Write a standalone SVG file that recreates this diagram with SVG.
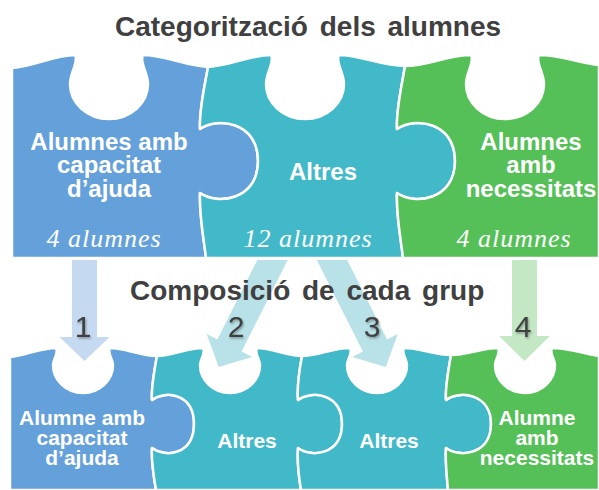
<svg xmlns="http://www.w3.org/2000/svg" width="599" height="490" viewBox="0 0 599 490">
<defs>
<style>
.pc{stroke:#ffffff;stroke-width:2.5;stroke-linejoin:round}
.blue{fill:#64a0da}
.teal{fill:#42b9c8}
.green{fill:#55c057}
.lbl{font-family:"Liberation Sans",Arial,sans-serif;font-weight:bold;fill:#ffffff;text-anchor:middle}
.big{font-size:24px}
.small{font-size:21px}
.cnt{font-family:"Liberation Serif","Times New Roman",serif;font-style:italic;font-size:26px;letter-spacing:1px;fill:#ffffff;text-anchor:middle}
.title{font-family:"Liberation Sans",Arial,sans-serif;font-weight:bold;font-size:28px;fill:#404040;word-spacing:4px}
.num{font-family:"Liberation Sans",Arial,sans-serif;font-size:30px;fill:#404040;text-anchor:middle}
</style>
<filter id="sh" x="-30%" y="-30%" width="160%" height="160%">
<feDropShadow dx="1" dy="1.5" stdDeviation="1" flood-color="#000" flood-opacity="0.35"/>
</filter>
</defs>
<rect width="599" height="490" fill="#ffffff"/>

<g id="top-capacitat">
<path class="pc blue" d="M12 68 C35 66 55 55 75 55 C79 62 70 72 70 84 A39 35 0 0 0 148 84 C148 72 139 62 143 55 C165 55 185 66 208 67 C204 90 199 110 200 129 C217 117 258 121 258 161 C258 201 217 205 200 193 C199 215 204 240 206 258 L12 258 Z"/>
<text class="lbl big" x="109" y="150">Alumnes amb</text>
<text class="lbl big" x="109" y="173">capacitat</text>
<text class="lbl big" x="109" y="197">d’ajuda</text>
<text class="cnt" x="104" y="247">4 alumnes</text>
</g>
<g id="top-altres">
<path class="pc teal" d="M208 67 C230 66 250 55 271 55 C275 62 266 72 266 84 A39 35 0 0 0 344 84 C344 72 335 62 339 55 C360 55 382 66 405 66 C401 90 396 110 397 129 C414 117 455 121 455 161 C455 201 414 205 397 193 C396 215 401 240 403 258 L206 258 C204 240 199 215 200 193 C217 205 258 201 258 161 C258 121 217 117 200 129 C199 110 204 90 208 67 Z"/>
<text class="lbl big" x="323" y="180">Altres</text>
<text class="cnt" x="308" y="247">12 alumnes</text>
</g>
<g id="top-necessitats">
<path class="pc green" d="M405 66 C428 66 448 55 471 55 C475 62 466 72 466 84 A39 35 0 0 0 544 84 C544 72 535 62 539 55 C560 55 580 63 599 65 L599 258 L403 258 C401 240 396 215 397 193 C414 205 455 201 455 161 C455 121 414 117 397 129 C396 110 401 90 405 66 Z"/>
<text class="lbl big" x="531" y="150">Alumnes</text>
<text class="lbl big" x="531" y="173">amb</text>
<text class="lbl big" x="531" y="197">necessitats</text>
<text class="cnt" x="514" y="247">4 alumnes</text>
</g>

<g id="grp-capacitat">
<path class="pc blue" d="M10 357 C25 356 40 348 56 348 C59 353 53 359 53 365 A30 28 0 0 0 113 365 C113 359 107 353 110 348 C125 348 140 356 157 356 C154 372 151 388 152 400 C165 390 194 393 194 424 C194 455 165 458 152 448 C151 462 154 478 156 490 L10 490 Z"/>
<text class="lbl small" x="82" y="425">Alumne amb</text>
<text class="lbl small" x="82" y="445">capacitat</text>
<text class="lbl small" x="82" y="465">d’ajuda</text>
</g>
<g id="grp-altres-1">
<path class="pc teal" d="M157 356 C172 356 187 348 203 348 C206 353 200 359 200 365 A30 28 0 0 0 260 365 C260 359 254 353 257 348 C272 348 287 356 302 356 C299 372 297 388 298 400 C311 390 342 393 342 424 C342 455 311 458 298 448 C297 462 299 478 301 490 L156 490 C154 478 151 462 152 448 C165 458 194 455 194 424 C194 393 165 390 152 400 C151 388 154 372 157 356 Z"/>
<text class="lbl small" x="247" y="448">Altres</text>
</g>
<g id="grp-altres-2">
<path class="pc teal" d="M302 356 C317 356 332 348 350 348 C353 353 347 359 347 365 A30 28 0 0 0 407 365 C407 359 401 353 404 348 C420 348 435 355 451 355 C448 372 445 388 446 400 C459 390 491 393 491 424 C491 455 459 458 446 448 C445 462 447 478 448 490 L301 490 C299 478 297 462 298 448 C311 458 342 455 342 424 C342 393 311 390 298 400 C297 388 299 372 302 356 Z"/>
<text class="lbl small" x="389" y="448">Altres</text>
</g>
<g id="grp-necessitats">
<path class="pc green" d="M451 355 C467 355 482 348 498 348 C501 353 495 359 495 365 A30 28 0 0 0 555 365 C555 359 549 353 552 348 C570 348 585 354 599 356 L599 490 L448 490 C447 478 445 462 446 448 C459 458 491 455 491 424 C491 393 459 390 446 400 C445 388 448 372 451 355 Z"/>
<text class="lbl small" x="537" y="425">Alumne</text>
<text class="lbl small" x="537" y="445">amb</text>
<text class="lbl small" x="537" y="465">necessitats</text>
</g>

<g id="connectors">
<polygon fill="#c5d9f0" points="72,260 97,260 97,337 109.5,337 84.5,361 59.5,337 72,337"/>
<polygon fill="#b8e2e8" points="257.3,260 287.7,260 241.6,351.6 252.3,356.9 218.7,366.9 206.7,334.1 217.4,339.4"/>
<polygon fill="#b8e2e8" points="347.2,260 316.8,260 362.9,351.6 352.2,356.9 385.8,366.9 397.8,334.1 387.1,339.4"/>
<polygon fill="#c4e7c4" points="512,260 537,260 537,336 550,336 524.5,361 499,336 512,336"/>
</g>

<g id="titles">
<text class="title" x="115" y="36">Categorització dels alumnes</text>
<text class="title" x="130" y="300">Composició de cada grup</text>
</g>
<g id="numbers" filter="url(#sh)">
<text class="num" x="83" y="337">1</text>
<text class="num" x="236" y="337">2</text>
<text class="num" x="372" y="337">3</text>
<text class="num" x="523" y="337">4</text>
</g>
</svg>
